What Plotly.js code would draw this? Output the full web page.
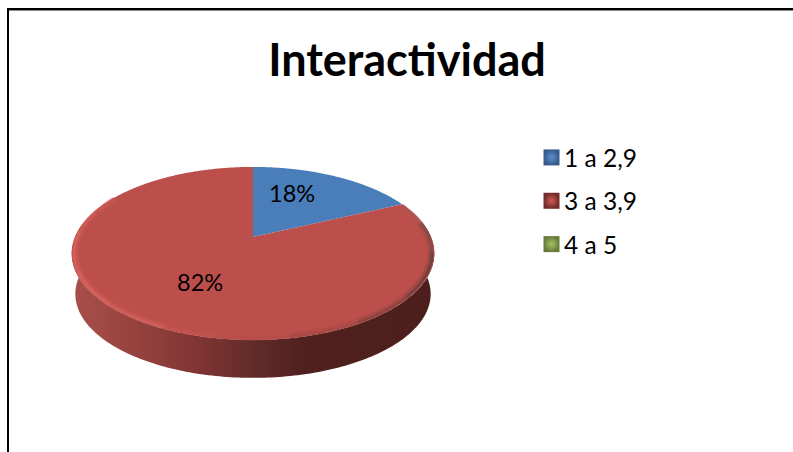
<!DOCTYPE html>
<html><head><meta charset="utf-8">
<script src="https://cdn.plot.ly/plotly-3.0.1.min.js"></script>
<style>html,body{margin:0;padding:0;background:#fff;overflow:hidden}</style>
</head><body><div id="chart" style="width:793px;height:452px"></div>
<script>
const categories = ['1 a 2,9', '3 a 3,9', '4 a 5'];
const values = [18, 82, 0];
const sliceColors = ['#4A7EBB', '#BC4F4B', '#98B954'];
const keyColors = ['#5B8FCC', '#CF5B57', '#A5C463'];
const keyEdges = ['#34598A', '#6E2B29', '#65793A'];
const titleText = 'Interactividad';

// perspective projection of the unit disc on to the page
const cx = 253, cy = 237, kx = 178, ky = 83.4, b = 0.19;
const proj = (r, deg) => {
  const t = deg * Math.PI / 180, u = r * Math.sin(t), v = r * Math.cos(t), d = 1 + b * v;
  return [cx + kx * u / d, cy - ky * v / d];
};
const lower = p => [cx + (p[0] - cx) * 0.98, cy + (p[1] - cy) * 0.97 + 41];
const range = (a, z, s) => { const o = []; for (let d = a; s > 0 ? d <= z : d >= z; d += s) o.push(d); return o; };
const base = {type: 'scatter', hoverinfo: 'skip', showlegend: false, xaxis: 'x', yaxis: 'y'};
const traces = [];

// side wall
const wallTop = range(79, 281, 1).map(d => proj(1, d));
const wallLow = range(281, 79, -1).map(d => lower(proj(1, d)));
const wall = wallTop.concat(wallLow);
traces.push({...base, mode: 'none', x: wall.map(p => p[0]), y: wall.map(p => p[1]), fill: 'toself',
  fillgradient: {type: 'horizontal', colorscale: [[0, '#A94F4B'], [0.18, '#96423F'], [0.35, '#7F3533'], [0.5, '#622B29'], [0.65, '#4F201E'], [1, '#4C1F1D']]}});

// top face, one polygon per category
const total = values.reduce((a, v) => a + v, 0);
let start = 0;
values.forEach((v, i) => {
  if (v === 0) return;
  const end = start + 360 * v / total;
  const pts = [proj(0, 0)].concat(range(start, end, 0.5).map(d => proj(1, d)), [proj(1, end)]);
  traces.push({...base, mode: 'none', x: pts.map(p => p[0]), y: pts.map(p => p[1]), fill: 'toself', fillcolor: sliceColors[i]});
  start = end;
});

// bevelled rim of the top face: a soft wide band, then a narrow core
const rimStops = [
  [66, '#AE5452'], [80, '#8A4A48'], [100, '#74403E'], [115, '#7D3F3D'], [130, '#924441'], [150, '#A84A46'],
  [170, '#B84E4A'], [190, '#C2534E'], [205, '#CE5C57'], [225, '#D5605B'], [250, '#D45E59'], [275, '#CF5A55'], [288, '#C85551'], [300, '#C05250']
];
[[0.982, 6, 0.35], [0.988, 3, 1]].forEach(band => {
  rimStops.slice(0, -1).forEach((s, i) => {
    const pts = range(s[0], rimStops[i + 1][0], 1).map(d => proj(band[0], d));
    traces.push({...base, mode: 'lines', x: pts.map(p => p[0]), y: pts.map(p => p[1]), opacity: band[2], line: {color: s[1], width: band[1]}});
  });
});

// legend keys
categories.forEach((c, i) => traces.push({type: 'scatter', mode: 'markers', name: c, x: [null], y: [null], legendgroup: c,
  hoverinfo: 'skip', marker: {symbol: 'square', size: 16, color: keyEdges[i],
  gradient: {type: 'radial', color: keyColors[i]}, line: {width: 0}}}));

const pct = values.map(v => Math.round(100 * v / total) + '%');
const layout = {
  width: 793, height: 452, autosize: false, margin: {l: 0, r: 0, t: 0, b: 0},
  paper_bgcolor: '#fff', plot_bgcolor: '#fff',
  xaxis: {range: [0, 793], visible: false, fixedrange: true},
  yaxis: {range: [452, 0], visible: false, fixedrange: true},
  title: {text: '<b>' + titleText + '</b>', x: 407 / 793, xanchor: 'center', y: 1 - 60 / 452, yanchor: 'middle',
    font: {family: 'Lato, sans-serif', size: 45, color: '#000'}},
  font: {family: 'Lato, sans-serif', color: '#000'},
  showlegend: true,
  legend: {x: 524 / 793, xanchor: 'left', y: 1 - 135 / 452, yanchor: 'top', yref: 'paper',
    font: {family: 'Lato, sans-serif', size: 24.5, color: '#000'}, bgcolor: 'rgba(0,0,0,0)', tracegroupgap: 8.5, itemclick: false, itemdoubleclick: false},
  annotations: [
    {x: 292, y: 193, xref: 'x', yref: 'y', text: pct[0], showarrow: false, font: {size: 23.5, color: '#000', family: 'Lato, sans-serif'}},
    {x: 200, y: 282, xref: 'x', yref: 'y', text: pct[1], showarrow: false, font: {size: 23.5, color: '#000', family: 'Lato, sans-serif'}}
  ],
  shapes: [
    {type: 'path', xref: 'x', yref: 'y', path: 'M8,452 L8,9 L793,9', line: {color: '#000', width: 2}},
    {type: 'line', xref: 'x', yref: 'y', x0: 9, x1: 793, y0: 10.5, y1: 10.5, line: {color: '#8a8a8a', width: 1}}
  ]
};
Plotly.newPlot('chart', traces, layout, {displayModeBar: false}).then(() => {
  // the keys sit closer to their labels than the library's default gap
  document.querySelectorAll('#chart .legend .legendsymbols').forEach(g => g.setAttribute('transform', 'translate(7.5,0)'));
});
</script></body></html>
